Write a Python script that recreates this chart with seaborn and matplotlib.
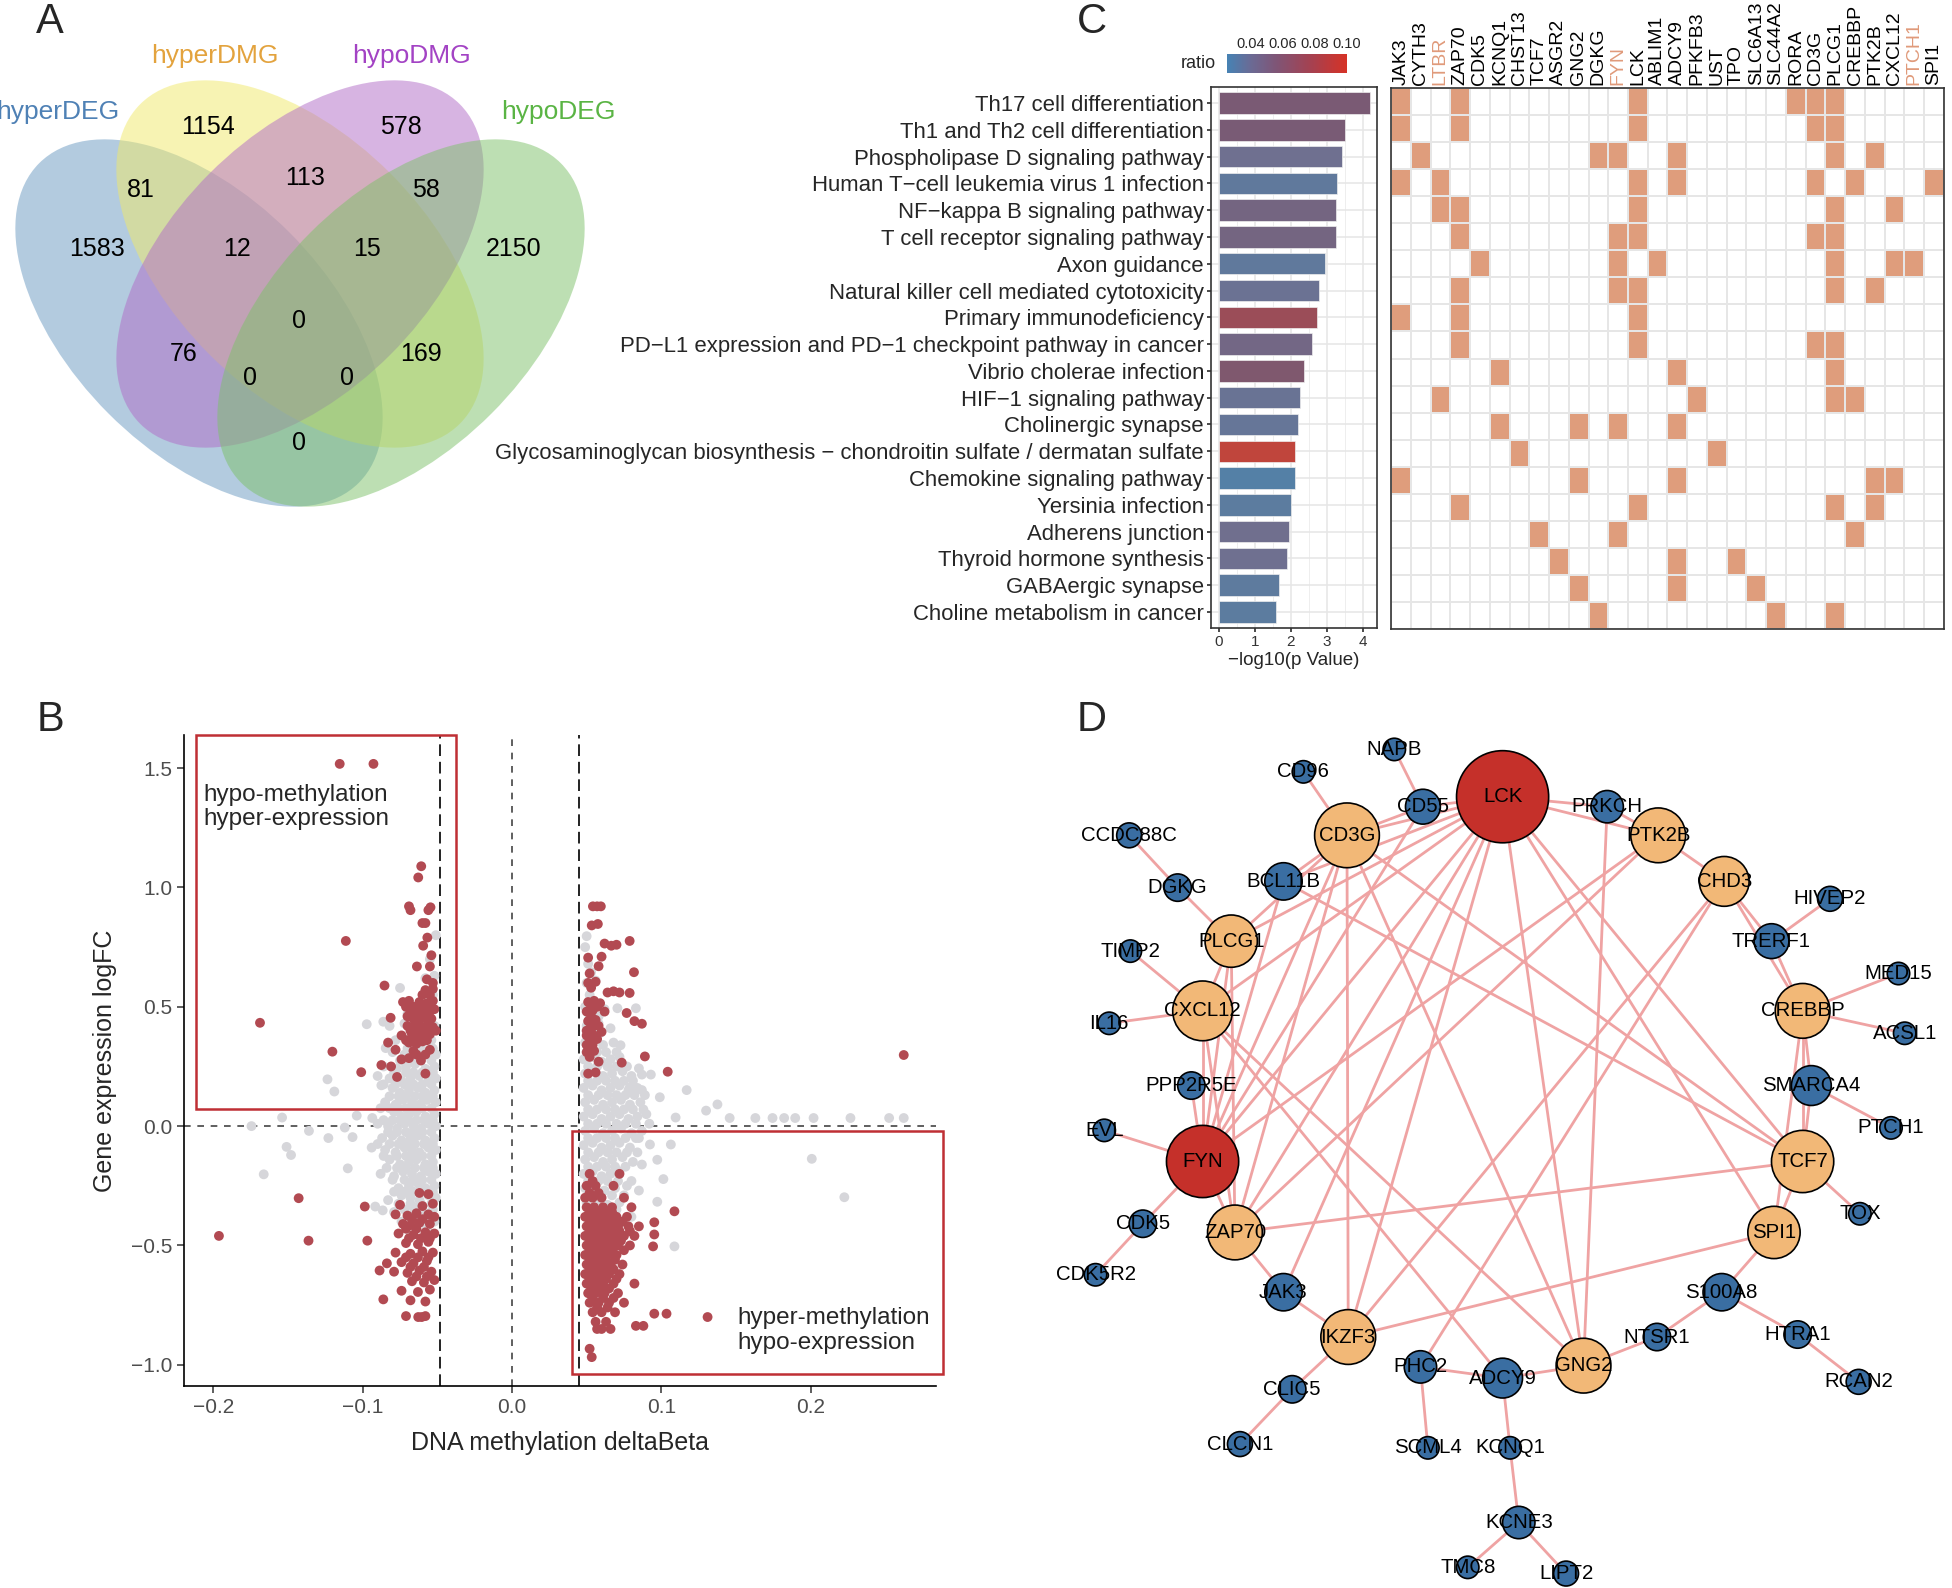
import numpy as np
import pandas as pd
import matplotlib
matplotlib.use('Agg')
import matplotlib.pyplot as plt
import seaborn as sns
from matplotlib.patches import Ellipse, Rectangle, Circle
from matplotlib.colors import LinearSegmentedColormap, ListedColormap, Normalize
from matplotlib.cm import ScalarMappable
from matplotlib.ticker import FuncFormatter, MultipleLocator

sns.set_theme(style='white')
plt.rcParams['font.family'] = ['Liberation Sans', 'DejaVu Sans']

# ---------------- Panel A: Venn counts ----------------
venn_sets = ['hyperDEG', 'hyperDMG', 'hypoDMG', 'hypoDEG']
venn_set_colors = ['#4F81B5', '#E3A33E', '#A343C4', '#5AB444']
venn_fills = ['#6999C1', '#F1E969', '#B16BC7', '#7DC169']
venn_counts = [1154, 578, 81, 113, 58, 1583, 12, 15, 2150, 0, 76, 169, 0, 0, 0]

# ---------------- Panel B: methylation vs expression ----------------
grey_pts = [
    (-0.1745, 0.000), (-0.1663, -0.202), (-0.154, 0.036), (-0.151, -0.087), (-0.148, -0.121),
    (-0.136, -0.020), (-0.1236, 0.196), (-0.119, 0.145), (-0.123, -0.050), (-0.112, -0.006),
    (-0.110, -0.177), (-0.1068, -0.046), (-0.104, 0.044), (-0.0973, 0.427), (-0.0936, 0.034),
    (-0.0862, 0.4375), (-0.0846, 0.327), (-0.0875, 0.171), (-0.075, 0.579), (-0.0916, -0.337),
    (-0.0866, -0.353),
    (-0.051, 0.80), (-0.055, 0.70), (-0.058, 0.62), (-0.052, 0.63), (-0.053, 0.55), (-0.056, 0.48),
    (-0.070, 0.47), (-0.052, 0.42), (-0.063, 0.41), (-0.072, 0.43), (-0.082, 0.42),
    (-0.059, 0.45), (-0.066, 0.45), (-0.057, 0.39), (-0.065, 0.39),
    (-0.054, 0.36), (-0.060, 0.35), (-0.068, 0.37), (-0.078, 0.36),
    (-0.053, 0.325), (-0.061, 0.325), (-0.070, 0.325),
    (-0.051, 0.30), (-0.057, 0.31), (-0.064, 0.29), (-0.072, 0.30), (-0.080, 0.31),
    (-0.054, 0.275), (-0.061, 0.275), (-0.068, 0.275), (-0.075, 0.275),
    (-0.052, 0.25), (-0.058, 0.24), (-0.065, 0.26), (-0.071, 0.25), (-0.077, 0.24), (-0.086, 0.25),
    (-0.053, 0.225), (-0.060, 0.225), (-0.066, 0.225), (-0.071, 0.225), (-0.079, 0.225),
    (-0.051, 0.20), (-0.056, 0.19), (-0.062, 0.21), (-0.068, 0.20), (-0.074, 0.19), (-0.082, 0.20),
    (-0.090, 0.21),
    (-0.054, 0.175), (-0.060, 0.175), (-0.066, 0.175), (-0.072, 0.175), (-0.078, 0.175), (-0.086, 0.175),
    (-0.052, 0.15), (-0.058, 0.14), (-0.063, 0.16), (-0.069, 0.15), (-0.075, 0.14), (-0.080, 0.16),
    (-0.053, 0.125), (-0.060, 0.125), (-0.065, 0.125), (-0.071, 0.125), (-0.076, 0.125), (-0.082, 0.125),
    (-0.051, 0.10), (-0.057, 0.11), (-0.062, 0.09), (-0.067, 0.10), (-0.073, 0.11), (-0.078, 0.09),
    (-0.085, 0.10),
    (-0.054, 0.075), (-0.060, 0.075), (-0.066, 0.075), (-0.071, 0.075), (-0.076, 0.075), (-0.082, 0.075),
    (-0.088, 0.075),
    (-0.052, 0.05), (-0.058, 0.04), (-0.064, 0.06), (-0.069, 0.05), (-0.074, 0.04), (-0.079, 0.06),
    (-0.053, 0.025), (-0.059, 0.025), (-0.064, 0.025), (-0.070, 0.025), (-0.075, 0.025), (-0.080, 0.025),
    (-0.086, 0.025),
    (-0.051, 0.00), (-0.056, 0.01), (-0.061, -0.01), (-0.066, 0.00), (-0.072, 0.01), (-0.077, -0.01),
    (-0.083, 0.00), (-0.090, 0.01),
    (-0.054, -0.025), (-0.060, -0.025), (-0.066, -0.025), (-0.071, -0.025), (-0.077, -0.025),
    (-0.083, -0.025),
    (-0.052, -0.05), (-0.058, -0.06), (-0.063, -0.04), (-0.068, -0.05), (-0.074, -0.06), (-0.080, -0.04),
    (-0.087, -0.05),
    (-0.053, -0.075), (-0.059, -0.075), (-0.065, -0.075), (-0.070, -0.075), (-0.076, -0.075),
    (-0.082, -0.075), (-0.090, -0.075),
    (-0.051, -0.10), (-0.056, -0.09), (-0.062, -0.11), (-0.067, -0.10), (-0.072, -0.09), (-0.078, -0.11),
    (-0.085, -0.10), (-0.094, -0.09),
    (-0.054, -0.125), (-0.060, -0.125), (-0.066, -0.125), (-0.071, -0.125), (-0.077, -0.125),
    (-0.086, -0.125),
    (-0.053, -0.15), (-0.058, -0.16), (-0.064, -0.14), (-0.069, -0.15), (-0.075, -0.16), (-0.082, -0.14),
    (-0.053, -0.175), (-0.059, -0.175), (-0.065, -0.175), (-0.071, -0.175), (-0.077, -0.175),
    (-0.084, -0.175),
    (-0.051, -0.20), (-0.056, -0.19), (-0.061, -0.21), (-0.067, -0.20), (-0.073, -0.19), (-0.079, -0.21),
    (-0.088, -0.20),
    (-0.054, -0.225), (-0.060, -0.225), (-0.066, -0.225), (-0.072, -0.225), (-0.080, -0.225),
    (-0.052, -0.25), (-0.058, -0.26), (-0.063, -0.24), (-0.069, -0.25), (-0.076, -0.26),
    (-0.053, -0.275), (-0.060, -0.275), (-0.066, -0.275), (-0.072, -0.275), (-0.079, -0.275),
    (-0.051, -0.30), (-0.056, -0.29), (-0.062, -0.31), (-0.068, -0.30), (-0.074, -0.29), (-0.083, -0.31),
    (-0.054, -0.325), (-0.061, -0.325), (-0.068, -0.325), (-0.076, -0.325),
    (-0.053, -0.35), (-0.059, -0.36), (-0.066, -0.34), (-0.072, -0.35), (-0.079, -0.36),
    (-0.055, -0.375), (-0.062, -0.375), (-0.069, -0.375),
    (-0.052, -0.40), (-0.058, -0.41), (-0.065, -0.39), (-0.074, -0.40),
    (-0.055, -0.45), (-0.068, -0.46),
    (0.050, 0.796), (0.053, 0.645), (0.0706, 0.494), (0.083, 0.494), (0.0727, 0.339), (0.085, 0.242),
    (0.093, 0.216), (0.099, 0.121), (0.117, 0.151), (0.1096, 0.036), (0.130, 0.065), (0.1376, 0.091),
    (0.1458, 0.034), (0.163, 0.034), (0.1745, 0.034), (0.1823, 0.034), (0.1897, 0.034), (0.202, 0.034),
    (0.2267, 0.034), (0.2526, 0.034), (0.2624, 0.034), (0.2008, -0.137), (0.2226, -0.298),
    (0.1088, -0.504), (0.1064, -0.077), (0.0973, -0.141), (0.1014, -0.222), (0.087, -0.161),
    (0.0973, -0.317), (0.0924, -0.077), (0.085, -0.050), (0.087, 0.151), (0.0788, 0.161), (0.087, 0.216),
    (0.049, 0.75), (0.051, 0.68), (0.050, 0.60), (0.056, 0.61), (0.052, 0.55), (0.049, 0.50),
    (0.055, 0.51), (0.062, 0.49), (0.052, 0.46), (0.058, 0.46),
    (0.050, 0.42), (0.058, 0.43), (0.066, 0.41), (0.052, 0.39), (0.059, 0.39),
    (0.049, 0.35), (0.055, 0.36), (0.061, 0.34), (0.068, 0.35),
    (0.051, 0.31), (0.057, 0.31), (0.063, 0.31), (0.070, 0.31),
    (0.048, 0.28), (0.054, 0.29), (0.060, 0.27), (0.066, 0.28), (0.072, 0.29),
    (0.051, 0.25), (0.057, 0.25), (0.064, 0.25), (0.070, 0.25), (0.077, 0.25),
    (0.049, 0.22), (0.055, 0.23), (0.061, 0.21), (0.067, 0.22), (0.074, 0.23), (0.080, 0.21),
    (0.051, 0.19), (0.057, 0.19), (0.063, 0.19), (0.069, 0.19), (0.075, 0.19), (0.081, 0.19),
    (0.048, 0.16), (0.054, 0.17), (0.060, 0.15), (0.066, 0.16), (0.072, 0.17), (0.078, 0.15), (0.084, 0.16),
    (0.051, 0.13), (0.058, 0.13), (0.064, 0.13), (0.070, 0.13), (0.076, 0.13), (0.082, 0.13), (0.089, 0.13),
    (0.049, 0.10), (0.055, 0.11), (0.061, 0.09), (0.067, 0.10), (0.073, 0.11), (0.079, 0.09), (0.086, 0.10),
    (0.051, 0.07), (0.057, 0.07), (0.063, 0.07), (0.069, 0.07), (0.075, 0.07), (0.081, 0.07), (0.088, 0.07),
    (0.048, 0.04), (0.054, 0.05), (0.060, 0.03), (0.066, 0.04), (0.072, 0.05), (0.078, 0.03), (0.084, 0.04),
    (0.090, 0.05),
    (0.051, 0.01), (0.057, 0.01), (0.063, 0.01), (0.070, 0.01), (0.076, 0.01), (0.083, 0.01), (0.092, 0.01),
    (0.049, -0.02), (0.055, -0.01), (0.061, -0.03), (0.067, -0.02), (0.073, -0.01), (0.080, -0.03),
    (0.087, -0.02),
    (0.051, -0.05), (0.057, -0.05), (0.063, -0.05), (0.069, -0.05), (0.076, -0.05), (0.083, -0.05),
    (0.048, -0.08), (0.054, -0.07), (0.060, -0.09), (0.066, -0.08), (0.072, -0.07), (0.079, -0.09),
    (0.051, -0.11), (0.058, -0.11), (0.064, -0.11), (0.070, -0.11), (0.077, -0.11), (0.084, -0.11),
    (0.049, -0.14), (0.055, -0.13), (0.061, -0.15), (0.067, -0.14), (0.074, -0.13), (0.081, -0.15),
    (0.051, -0.17), (0.057, -0.17), (0.063, -0.17), (0.069, -0.17), (0.076, -0.17),
    (0.048, -0.20), (0.054, -0.19), (0.060, -0.21), (0.066, -0.20), (0.072, -0.19),
    (0.051, -0.23), (0.058, -0.23), (0.064, -0.23), (0.071, -0.23), (0.080, -0.23),
    (0.049, -0.26), (0.055, -0.25), (0.062, -0.27), (0.069, -0.26), (0.077, -0.25), (0.085, -0.27),
    (0.052, -0.29), (0.059, -0.29), (0.067, -0.29), (0.075, -0.29),
    (0.050, -0.32), (0.057, -0.31), (0.064, -0.33), (0.072, -0.32),
    (0.054, -0.35), (0.062, -0.35), (0.070, -0.35),
    (0.052, -0.38), (0.060, -0.39), (0.068, -0.37), (0.080, -0.38),
    (0.055, -0.45), (0.066, -0.44),
]

red_pts = [
    (-0.1154, 1.518), (-0.0928, 1.518), (-0.0608, 1.089), (-0.0628, 1.042), (-0.1113, 0.776),
    (-0.1688, 0.433), (-0.1203, 0.312), (-0.101, 0.226), (-0.0875, 0.256), (-0.0854, 0.589),
    (-0.0546, 0.917), (-0.056, 0.905), (-0.069, 0.921), (-0.068, 0.905), (-0.058, 0.851), (-0.060, 0.851),
    (-0.0567, 0.79), (-0.0595, 0.756), (-0.054, 0.716), (-0.0637, 0.669), (-0.055, 0.669), (-0.057, 0.615),
    (-0.053, 0.60), (-0.058, 0.57), (-0.053, 0.575), (-0.060, 0.55), (-0.055, 0.55),
    (-0.073, 0.52), (-0.069, 0.525), (-0.062, 0.52), (-0.057, 0.515), (-0.053, 0.525),
    (-0.071, 0.50), (-0.066, 0.50), (-0.059, 0.50), (-0.055, 0.50),
    (-0.068, 0.48), (-0.064, 0.485), (-0.060, 0.475), (-0.055, 0.48), (-0.052, 0.49),
    (-0.070, 0.46), (-0.064, 0.46), (-0.060, 0.46), (-0.056, 0.46),
    (-0.0813, 0.454), (-0.066, 0.45), (-0.062, 0.445), (-0.058, 0.455), (-0.054, 0.45),
    (-0.070, 0.42), (-0.066, 0.415), (-0.062, 0.425), (-0.057, 0.42), (-0.053, 0.415),
    (-0.068, 0.40), (-0.064, 0.40), (-0.060, 0.40), (-0.055, 0.40), (-0.051, 0.40),
    (-0.074, 0.38), (-0.067, 0.385), (-0.063, 0.375), (-0.059, 0.38), (-0.055, 0.385),
    (-0.071, 0.36), (-0.066, 0.36), (-0.062, 0.36), (-0.057, 0.36),
    (-0.083, 0.35), (-0.069, 0.35), (-0.064, 0.345), (-0.060, 0.355),
    (-0.078, 0.32), (-0.066, 0.315), (-0.055, 0.32), (-0.064, 0.30), (-0.058, 0.30),
    (-0.074, 0.28), (-0.069, 0.285), (-0.061, 0.275),
    (-0.081, 0.25), (-0.058, 0.22), (-0.077, 0.206),
    (-0.062, -0.28), (-0.056, -0.285),
    (-0.075, -0.33), (-0.060, -0.335), (-0.053, -0.325),
    (-0.078, -0.37), (-0.070, -0.375), (-0.064, -0.365), (-0.056, -0.37), (-0.052, -0.38),
    (-0.067, -0.39), (-0.060, -0.39),
    (-0.073, -0.41), (-0.068, -0.415), (-0.062, -0.405), (-0.055, -0.41),
    (-0.071, -0.43), (-0.064, -0.43),
    (-0.076, -0.45), (-0.066, -0.455), (-0.058, -0.445), (-0.052, -0.45),
    (-0.069, -0.47), (-0.061, -0.47), (-0.055, -0.47),
    (-0.071, -0.49), (-0.063, -0.495), (-0.056, -0.485),
    (-0.078, -0.53), (-0.068, -0.535), (-0.060, -0.525), (-0.053, -0.53),
    (-0.071, -0.55), (-0.063, -0.55), (-0.056, -0.55),
    (-0.074, -0.57), (-0.066, -0.575), (-0.057, -0.565),
    (-0.068, -0.59), (-0.059, -0.59),
    (-0.079, -0.61), (-0.070, -0.615), (-0.062, -0.605), (-0.054, -0.61),
    (-0.064, -0.63), (-0.057, -0.63),
    (-0.067, -0.65), (-0.059, -0.655), (-0.052, -0.645),
    (-0.074, -0.69), (-0.063, -0.695), (-0.055, -0.685),
    (-0.068, -0.73), (-0.058, -0.735),
    (-0.1963, -0.46), (-0.1429, -0.302), (-0.1363, -0.48), (-0.0969, -0.48), (-0.0986, -0.337),
    (-0.0862, -0.726), (-0.0887, -0.605), (-0.0838, -0.575), (-0.071, -0.796), (-0.0628, -0.80),
    (-0.058, -0.796), (-0.0605, -0.80),
    (0.0542, 0.921), (0.0595, 0.921), (0.057, 0.921), (0.0534, 0.841), (0.0575, 0.847), (0.0788, 0.776),
    (0.0665, 0.756), (0.062, 0.765), (0.070, 0.76), (0.051, 0.706), (0.060, 0.71), (0.058, 0.67),
    (0.0817, 0.645), (0.052, 0.64), (0.051, 0.60), (0.056, 0.605), (0.053, 0.58), (0.0788, 0.558),
    (0.064, 0.56), (0.068, 0.565), (0.072, 0.56), (0.051, 0.52), (0.055, 0.525), (0.059, 0.515),
    (0.053, 0.50), (0.057, 0.50), (0.050, 0.48), (0.054, 0.485), (0.0768, 0.474), (0.062, 0.48),
    (0.053, 0.46), (0.051, 0.44), (0.056, 0.445), (0.087, 0.429), (0.082, 0.44), (0.053, 0.42),
    (0.058, 0.42), (0.050, 0.40), (0.053, 0.405), (0.060, 0.395), (0.050, 0.38), (0.055, 0.38),
    (0.052, 0.36), (0.057, 0.365), (0.050, 0.34), (0.054, 0.34),
    (0.050, 0.31), (0.055, 0.315), (0.052, 0.29), (0.089, 0.292), (0.058, 0.27), (0.0735, 0.266),
    (0.051, 0.22), (0.056, 0.225), (0.1043, 0.228), (0.2624, 0.298),
    (0.052, -0.20), (0.072, -0.20), (0.054, -0.23),
    (0.050, -0.25), (0.056, -0.25), (0.068, -0.25), (0.052, -0.28), (0.058, -0.28),
    (0.049, -0.30), (0.054, -0.30), (0.060, -0.30), (0.075, -0.30),
    (0.050, -0.34), (0.055, -0.34), (0.061, -0.34), (0.067, -0.34), (0.080, -0.34),
    (0.052, -0.36), (0.057, -0.36), (0.062, -0.36), (0.067, -0.36),
    (0.049, -0.38), (0.054, -0.38), (0.059, -0.38), (0.064, -0.38), (0.070, -0.38), (0.077, -0.38),
    (0.052, -0.40), (0.057, -0.40), (0.062, -0.40), (0.068, -0.40), (0.074, -0.40),
    (0.050, -0.42), (0.055, -0.42), (0.060, -0.42), (0.065, -0.42), (0.071, -0.42), (0.078, -0.42),
    (0.085, -0.42),
    (0.052, -0.44), (0.057, -0.44), (0.062, -0.44), (0.067, -0.44), (0.072, -0.44), (0.079, -0.44),
    (0.049, -0.46), (0.054, -0.46), (0.059, -0.46), (0.064, -0.46), (0.069, -0.46), (0.075, -0.46),
    (0.082, -0.46),
    (0.052, -0.48), (0.057, -0.48), (0.062, -0.48), (0.067, -0.48), (0.073, -0.48),
    (0.050, -0.50), (0.055, -0.50), (0.060, -0.50), (0.065, -0.50), (0.071, -0.50), (0.079, -0.50),
    (0.052, -0.52), (0.057, -0.52), (0.062, -0.52), (0.067, -0.52), (0.075, -0.52),
    (0.049, -0.54), (0.054, -0.54), (0.059, -0.54), (0.064, -0.54), (0.070, -0.54),
    (0.052, -0.56), (0.057, -0.56), (0.063, -0.56), (0.069, -0.56),
    (0.050, -0.58), (0.055, -0.58), (0.060, -0.58), (0.066, -0.58), (0.074, -0.58),
    (0.052, -0.60), (0.057, -0.60), (0.062, -0.60), (0.068, -0.60),
    (0.049, -0.62), (0.054, -0.62), (0.059, -0.62), (0.065, -0.62), (0.072, -0.62),
    (0.052, -0.64), (0.057, -0.64), (0.063, -0.64), (0.070, -0.64),
    (0.050, -0.66), (0.055, -0.66), (0.061, -0.66), (0.068, -0.66), (0.082, -0.66),
    (0.053, -0.68), (0.059, -0.68), (0.065, -0.68),
    (0.051, -0.70), (0.056, -0.70), (0.062, -0.70), (0.071, -0.70),
    (0.054, -0.72), (0.061, -0.72), (0.068, -0.72),
    (0.052, -0.74), (0.058, -0.74), (0.065, -0.74), (0.075, -0.74),
    (0.057, -0.76), (0.064, -0.76),
    (0.054, -0.78), (0.060, -0.78), (0.069, -0.78),
    (0.056, -0.82), (0.063, -0.82),
    (0.057, -0.85), (0.060, -0.85), (0.066, -0.85),
    (0.131, -0.80), (0.1088, -0.357), (0.0953, -0.403), (0.0953, -0.454), (0.0945, -0.504),
    (0.1035, -0.786), (0.0953, -0.786), (0.083, -0.837), (0.088, -0.837), (0.052, -0.933),
    (0.0534, -0.968),
]

# ---------------- Panel C: KEGG enrichment ----------------
pathways = [
    'Th17 cell differentiation', 'Th1 and Th2 cell differentiation',
    'Phospholipase D signaling pathway', 'Human T\u2212cell leukemia virus 1 infection',
    'NF\u2212kappa B signaling pathway', 'T cell receptor signaling pathway', 'Axon guidance',
    'Natural killer cell mediated cytotoxicity', 'Primary immunodeficiency',
    'PD\u2212L1 expression and PD\u22121 checkpoint pathway in cancer', 'Vibrio cholerae infection',
    'HIF\u22121 signaling pathway', 'Cholinergic synapse',
    'Glycosaminoglycan biosynthesis \u2212 chondroitin sulfate / dermatan sulfate',
    'Chemokine signaling pathway', 'Yersinia infection', 'Adherens junction',
    'Thyroid hormone synthesis', 'GABAergic synapse', 'Choline metabolism in cancer',
]
neg_log10_p = [4.18, 3.49, 3.41, 3.27, 3.24, 3.24, 2.94, 2.79, 2.71, 2.57,
               2.37, 2.25, 2.20, 2.12, 2.11, 1.99, 1.95, 1.89, 1.68, 1.58]
ratios = [0.056, 0.055, 0.040, 0.032, 0.048, 0.048, 0.032, 0.038, 0.079, 0.046,
          0.060, 0.037, 0.035, 0.100, 0.026, 0.030, 0.041, 0.040, 0.031, 0.030]
genes = ['JAK3', 'CYTH3', 'LTBR', 'ZAP70', 'CDK5', 'KCNQ1', 'CHST13', 'TCF7', 'ASGR2', 'GNG2',
         'DGKG', 'FYN', 'LCK', 'ABLIM1', 'ADCY9', 'PFKFB3', 'UST', 'TPO', 'SLC6A13', 'SLC44A2',
         'RORA', 'CD3G', 'PLCG1', 'CREBBP', 'PTK2B', 'CXCL12', 'PTCH1', 'SPI1']
highlight_genes = ['LTBR', 'FYN', 'PTCH1']
pathway_genes = [
    ['JAK3', 'ZAP70', 'LCK', 'RORA', 'CD3G', 'PLCG1'],
    ['JAK3', 'ZAP70', 'LCK', 'CD3G', 'PLCG1'],
    ['CYTH3', 'DGKG', 'FYN', 'ADCY9', 'PLCG1', 'PTK2B'],
    ['JAK3', 'LTBR', 'LCK', 'ADCY9', 'CD3G', 'CREBBP', 'SPI1'],
    ['LTBR', 'ZAP70', 'LCK', 'PLCG1', 'CXCL12'],
    ['ZAP70', 'FYN', 'LCK', 'CD3G', 'PLCG1'],
    ['CDK5', 'FYN', 'ABLIM1', 'PLCG1', 'CXCL12', 'PTCH1'],
    ['ZAP70', 'FYN', 'LCK', 'PLCG1', 'PTK2B'],
    ['JAK3', 'ZAP70', 'LCK'],
    ['ZAP70', 'LCK', 'CD3G', 'PLCG1'],
    ['KCNQ1', 'ADCY9', 'PLCG1'],
    ['LTBR', 'PFKFB3', 'PLCG1', 'CREBBP'],
    ['KCNQ1', 'GNG2', 'FYN', 'ADCY9'],
    ['CHST13', 'UST'],
    ['JAK3', 'GNG2', 'ADCY9', 'PTK2B', 'CXCL12'],
    ['ZAP70', 'LCK', 'PLCG1', 'PTK2B'],
    ['TCF7', 'FYN', 'CREBBP'],
    ['ASGR2', 'ADCY9', 'TPO'],
    ['GNG2', 'ADCY9', 'SLC6A13'],
    ['DGKG', 'SLC44A2', 'PLCG1'],
]

# ---------------- Panel D: PPI network ----------------
node_names = ['LCK', 'FYN', 'CD3G', 'PTK2B', 'CHD3', 'PLCG1', 'CXCL12', 'CREBBP', 'TCF7', 'ZAP70',
              'SPI1', 'IKZF3', 'GNG2', 'NAPB', 'CD96', 'CD55', 'PRKCH', 'CCDC88C', 'BCL11B', 'DGKG',
              'HIVEP2', 'TRERF1', 'TIMP2', 'MED15', 'IL16', 'ACSL1', 'PPP2R5E', 'SMARCA4', 'EVL',
              'PTCH1', 'TOX', 'CDK5', 'CDK5R2', 'JAK3', 'S100A8', 'NTSR1', 'HTRA1', 'RCAN2', 'PHC2',
              'ADCY9', 'CLIC5', 'CLCN1', 'SCML4', 'KCNQ1', 'KCNE3', 'TMC8', 'LIPT2']
node_class = ['hub', 'hub'] + ['core'] * 11 + ['other'] * 34
edges = [
    ('LCK', 'CD3G'), ('LCK', 'CD55'), ('LCK', 'PRKCH'), ('LCK', 'PTK2B'), ('LCK', 'BCL11B'),
    ('LCK', 'PLCG1'), ('LCK', 'CXCL12'), ('LCK', 'FYN'), ('LCK', 'ZAP70'), ('LCK', 'JAK3'),
    ('LCK', 'IKZF3'), ('LCK', 'GNG2'), ('LCK', 'SPI1'), ('LCK', 'TCF7'),
    ('CD3G', 'CD96'), ('CD3G', 'CD55'), ('CD3G', 'BCL11B'), ('CD3G', 'PLCG1'), ('CD3G', 'FYN'),
    ('CD3G', 'ZAP70'), ('CD3G', 'IKZF3'), ('CD3G', 'GNG2'), ('CD3G', 'TCF7'),
    ('FYN', 'PLCG1'), ('FYN', 'CXCL12'), ('FYN', 'ZAP70'), ('FYN', 'PTK2B'), ('FYN', 'CD55'),
    ('FYN', 'EVL'), ('FYN', 'CDK5'), ('FYN', 'PPP2R5E'), ('FYN', 'BCL11B'),
    ('PTK2B', 'PRKCH'), ('PTK2B', 'CHD3'), ('PTK2B', 'ZAP70'),
    ('CHD3', 'TRERF1'), ('CHD3', 'CREBBP'), ('CHD3', 'IKZF3'), ('CHD3', 'PHC2'),
    ('PLCG1', 'DGKG'), ('PLCG1', 'CXCL12'), ('PLCG1', 'ZAP70'),
    ('CXCL12', 'IL16'), ('CXCL12', 'TIMP2'), ('CXCL12', 'ZAP70'), ('CXCL12', 'ADCY9'), ('CXCL12', 'GNG2'),
    ('CREBBP', 'MED15'), ('CREBBP', 'ACSL1'), ('CREBBP', 'SMARCA4'), ('CREBBP', 'TCF7'),
    ('CREBBP', 'SPI1'), ('CREBBP', 'TRERF1'),
    ('TCF7', 'SMARCA4'), ('TCF7', 'TOX'), ('TCF7', 'ZAP70'), ('TCF7', 'SPI1'), ('TCF7', 'BCL11B'),
    ('SPI1', 'S100A8'), ('SPI1', 'IKZF3'),
    ('GNG2', 'ADCY9'), ('GNG2', 'NTSR1'), ('GNG2', 'PRKCH'),
    ('ZAP70', 'JAK3'), ('IKZF3', 'JAK3'), ('IKZF3', 'CLIC5'), ('CLIC5', 'CLCN1'),
    ('NAPB', 'CD55'), ('CCDC88C', 'DGKG'), ('HIVEP2', 'TRERF1'), ('SMARCA4', 'PTCH1'),
    ('CDK5', 'CDK5R2'), ('S100A8', 'NTSR1'), ('S100A8', 'HTRA1'), ('HTRA1', 'RCAN2'),
    ('PHC2', 'ADCY9'), ('PHC2', 'SCML4'), ('ADCY9', 'KCNQ1'), ('KCNQ1', 'KCNE3'),
    ('KCNE3', 'TMC8'), ('KCNE3', 'LIPT2'),
]

# ---------------- layout (pixel positions in the 1952x1588 canvas) ----------------
W, H = 1952, 1588


def box(l, t, r, b):
    return [l / W, 1 - b / H, (r - l) / W, (b - t) / H]


venn_ellipses = [(199, 323, 45), (300, 264, 45), (300, 264, -45), (401, 323, -45)]
venn_name_xy = [(58, 112), (215, 56), (411, 56), (558, 112)]
venn_count_xy = [(208, 127), (401, 127), (141, 190), (305, 178), (426, 190), (97, 249), (237, 249),
                 (367, 249), (514, 249), (299, 321), (184, 354), (421, 354), (250, 378), (347, 378),
                 (299, 443)]

# network layout in half-scale coordinates (x * 1.2449 = canvas px)
node_xy = [(1207, 640), (966, 933), (1082, 671), (1332, 671), (1385, 708), (989, 756), (966, 812),
           (1448, 812), (1448, 933), (992, 990), (1425, 990), (1083, 1074), (1272, 1097),
           (1120, 602), (1047, 620), (1143, 648), (1291, 648), (907, 671), (1031, 708), (946, 713),
           (1470, 722), (1423, 756), (908, 764), (1525, 782), (891, 822), (1530, 830), (957, 872),
           (1455, 872), (887, 908), (1519, 906), (1494, 975), (918, 983), (880, 1024), (1031, 1038),
           (1383, 1038), (1331, 1074), (1444, 1072), (1493, 1110), (1141, 1098), (1207, 1107),
           (1038, 1116), (996, 1160), (1147, 1163), (1213, 1163), (1220, 1223), (1179, 1259),
           (1258, 1264)]
node_r = [37, 29, 26, 22, 20, 21, 24, 22, 25, 22, 21, 22, 22,
          9, 9, 14, 13, 10, 15, 11, 10, 14, 9, 9, 9, 9, 11, 16, 9, 9, 9, 11, 9, 15, 15, 11, 11, 10,
          13, 16, 11, 10, 9, 9, 13, 9, 10]
node_colors = {'hub': '#C5302A', 'core': '#F2B877', 'other': '#3A6EA2'}

fig = plt.figure(figsize=(W / 100, H / 100), dpi=100)

# ================= A =================
axA = fig.add_axes(box(0, 0, 600, 560))
axA.set_xlim(0, 600)
axA.set_ylim(560, 0)
axA.axis('off')
for (cx, cy, ang), fc in zip(venn_ellipses, venn_fills):
    axA.add_patch(Ellipse((cx, cy), 452, 256, angle=ang, facecolor=fc, alpha=0.5, edgecolor='none'))
for name, col, (x, y) in zip(venn_sets, venn_set_colors, venn_name_xy):
    axA.text(x, y, name, color=col, fontsize=19, ha='center', va='center')
for val, (x, y) in zip(venn_counts, venn_count_xy):
    axA.text(x, y, str(val), fontsize=18, ha='center', va='center', color='black')

# ================= B =================
df_sc = pd.DataFrame(grey_pts + red_pts, columns=['deltaBeta', 'logFC'])
df_sc['group'] = ['other'] * len(grey_pts) + ['selected'] * len(red_pts)
axB = fig.add_axes(box(184, 735, 936, 1386))
axB.axvline(-0.048, color='#222222', lw=1.4, ls=(0, (6, 3)), zorder=0)
axB.axvline(0.045, color='#222222', lw=1.4, ls=(0, (6, 3)), zorder=0)
axB.axvline(0, color='#444444', lw=1.2, ls=(0, (4, 4)), zorder=0)
axB.axhline(0, color='#444444', lw=1.2, ls=(0, (4, 4)), zorder=0)
sns.scatterplot(data=df_sc, x='deltaBeta', y='logFC', hue='group',
                palette={'other': '#D6D6DA', 'selected': '#B24A52'},
                s=50, linewidth=0, legend=False, ax=axB, zorder=2)
axB.set_xlim(-0.2197, 0.284)
axB.set_ylim(-1.089, 1.639)
axB.set_xticks([-0.2, -0.1, 0.0, 0.1, 0.2])
axB.set_yticks([-1.0, -0.5, 0.0, 0.5, 1.0, 1.5])
fmt = FuncFormatter(lambda v, p: ('%.1f' % v).replace('-', '\u2212'))
axB.xaxis.set_major_formatter(fmt)
axB.yaxis.set_major_formatter(fmt)
axB.tick_params(axis='both', direction='out', length=5, width=1.1, color='#333333',
                labelsize=15, labelcolor='#4D4D4D', bottom=True, left=True)
for s in ['top', 'right']:
    axB.spines[s].set_visible(False)
for s in ['left', 'bottom']:
    axB.spines[s].set_color('black')
    axB.spines[s].set_linewidth(1.2)
axB.set_xlabel('DNA methylation deltaBeta', fontsize=18, labelpad=10)
axB.set_ylabel('Gene expression logFC', fontsize=18, labelpad=10)
axB.add_patch(Rectangle((-0.2114, 0.072), 0.1742, 1.569, fill=False, ec='#BF2F34', lw=1.8,
                        clip_on=False, zorder=3))
axB.add_patch(Rectangle((0.0405, -1.040), 0.2485, 1.019, fill=False, ec='#BF2F34', lw=1.8,
                        clip_on=False, zorder=3))
axB.text(-0.2064, 1.338, 'hypo-methylation\nhyper-expression', fontsize=17.5, ha='left', va='center',
         linespacing=1.15)
axB.text(0.151, -0.857, 'hyper-methylation\nhypo-expression', fontsize=17.5, ha='left', va='center',
         linespacing=1.15)

# ================= C =================
ratio_cmap = LinearSegmentedColormap.from_list(
    'ratio', [(0.0, '#4682B4'), (0.2, '#6B6A94'), (0.42, '#805475'), (0.72, '#A8404E'), (1.0, '#D63226')])
norm = Normalize(0.0256, 0.100)
bar_colors = [ratio_cmap(norm(r)) for r in ratios]
df_bar = pd.DataFrame({'pathway': pathways, 'logp': neg_log10_p, 'ratio': ratios})

axBar = fig.add_axes(box(1211, 87, 1377, 628))
axBar.set_axisbelow(True)
sns.barplot(data=df_bar, x='logp', y='pathway', hue='pathway', palette=bar_colors, dodge=False,
            legend=False, width=0.8, ax=axBar, edgecolor='#EEEEEE', linewidth=0.5)
axBar.set_xlim(-0.21, 4.38)
axBar.set_ylim(19.6, -0.6)
axBar.set_xticks([0, 1, 2, 3, 4])
axBar.xaxis.set_minor_locator(MultipleLocator(0.5))
axBar.grid(which='major', color='#E6E6E6', lw=1.1)
axBar.grid(which='minor', axis='x', color='#EEEEEE', lw=0.7)
axBar.tick_params(axis='y', labelsize=15.9, length=3, color='#333333', left=True, pad=2)
axBar.tick_params(axis='x', which='major', labelsize=11, length=3, color='#333333', bottom=True,
                  labelcolor='#333333', pad=2)
axBar.tick_params(axis='x', which='minor', length=0)
axBar.set_ylabel('')
axBar.set_xlabel('\u2212log10(p Value)', fontsize=13.5, labelpad=2)
for sp in axBar.spines.values():
    sp.set_visible(True)
    sp.set_color('#333333')
    sp.set_linewidth(1.2)

cax = fig.add_axes(box(1227, 54, 1347, 73))
cb = fig.colorbar(ScalarMappable(norm=norm, cmap=ratio_cmap), cax=cax, orientation='horizontal')
cb.set_ticks([0.04, 0.06, 0.08, 0.10])
cb.ax.xaxis.set_major_formatter(FuncFormatter(lambda v, p: '%.2f' % v))
cb.outline.set_visible(False)
cax.tick_params(axis='x', top=True, bottom=True, labeltop=True, labelbottom=False, direction='in',
                length=4, width=1, color='white', labelsize=10.5, pad=2)
fig.text(1216 / W, 1 - 64 / H, 'ratio', fontsize=13, ha='right', va='center')

mat = np.zeros((len(pathways), len(genes)))
for i, glist in enumerate(pathway_genes):
    for g in glist:
        mat[i, genes.index(g)] = 1
axH = fig.add_axes(box(1391, 88, 1944, 629))
sns.heatmap(mat, cmap=ListedColormap(['white', '#DF9D7C']), vmin=0, vmax=1, cbar=False,
            linewidths=1.3, linecolor='#E6E6E6', xticklabels=genes, yticklabels=False, ax=axH)
axH.xaxis.tick_top()
axH.tick_params(axis='x', length=0, pad=2, labelsize=14, rotation=90, top=True, bottom=False,
                labeltop=True, labelbottom=False)
for lbl in axH.get_xticklabels():
    lbl.set_va('bottom')
    lbl.set_color('#E09A7A' if lbl.get_text() in highlight_genes else 'black')
for sp in axH.spines.values():
    sp.set_visible(True)
    sp.set_color('#333333')
    sp.set_linewidth(1.2)

# ================= D =================
S = 1.2449
axN = fig.add_axes(box(1060, 720, 1952, 1588))
axN.set_xlim(1060 / S, 1952 / S)
axN.set_ylim(1588 / S, 720 / S)
axN.axis('off')
pos = dict(zip(node_names, node_xy))
for a, b in edges:
    (x1, y1), (x2, y2) = pos[a], pos[b]
    axN.plot([x1, x2], [y1, y2], color='#EFA3A3', lw=2.0, zorder=1, solid_capstyle='butt')
for name, (x, y), r, cl in zip(node_names, node_xy, node_r, node_class):
    axN.add_patch(Circle((x, y), r, facecolor=node_colors[cl], edgecolor='black', lw=1.2, zorder=2))
    axN.text(x, y, name, fontsize=14.7, ha='center', va='center', color='black', zorder=3)

# panel letters
for letter, (x, y) in zip('ABCD', [(50, 22), (50, 720), (1092, 22), (1092, 720)]):
    fig.text(x / W, 1 - y / H, letter, fontsize=30, ha='center', va='center')

fig.savefig('out.png', dpi=100)
